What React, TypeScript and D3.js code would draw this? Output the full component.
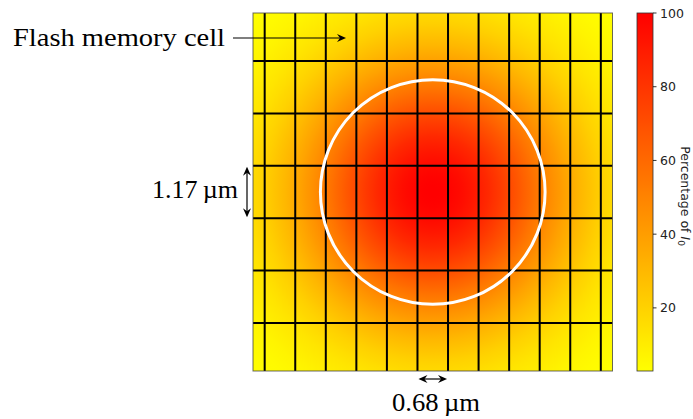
import React from "react";
import * as d3 from "d3";

// ---- data (µm / percent) ----
const extentUm = [-4, 4];
const peakPercent = 100;
const beamFwhmUm = 5.0;
const gridXUm = [-3.74, -3.06, -2.38, -1.7, -1.02, -0.34, 0.34, 1.02, 1.7, 2.38, 3.06, 3.74];
const gridYUm = [-2.925, -1.755, -0.585, 0.585, 1.755, 2.925];
const colorbarTicks = [20, 40, 60, 80, 100];
const cellPitchX = [-0.34, 0.34]; // 0.68 µm marker
const cellPitchY = [-0.585, 0.585]; // 1.17 µm marker
const labels = { cell: "Flash memory cell", pitchY: "1.17\u2009µm", pitchX: "0.68\u2009µm" };

const W = 693, H = 419;
const px0 = 253, px1 = 612.5, py0 = 13, py1 = 371;
const cbx0 = 637, cbx1 = 653;

const sigma = beamFwhmUm / (2 * Math.sqrt(2 * Math.log(2)));
const gauss = (r: number) => peakPercent * Math.exp(-(r * r) / (2 * sigma * sigma));
const rMax = Math.hypot(extentUm[1], extentUm[1]);
const vmin = gauss(rMax);

export default function App() {
  const x = d3.scaleLinear().domain(extentUm).range([px0, px1]);
  const y = d3.scaleLinear().domain(extentUm).range([py1, py0]);
  const color = d3.scaleLinear<string>().domain([vmin, peakPercent]).range(["#ffff00", "#ff0000"]).interpolate(d3.interpolateRgb);
  const cb = d3.scaleLinear().domain([vmin, peakPercent]).range([py1, py0]);
  const pxPerUm = x(1) - x(0);
  const cx = x(0), cy = y(0);
  const rPx = rMax * pxPerUm;
  const stops = d3.range(0, 1.0001, 0.02);

  const stealth = (tx: number, ty: number, ang: number, key: string) => {
    const L = 9, Wd = 4, n = 6;
    const c = Math.cos(ang), s = Math.sin(ang);
    const pt = (a: number, b: number) => `${tx + a * c - b * s},${ty + a * s + b * c}`;
    return <path key={key} d={`M${pt(0, 0)}L${pt(-L, -Wd)}L${pt(-n, 0)}L${pt(-L, Wd)}Z`} fill="#000" />;
  };

  const serif = "'Liberation Serif', 'DejaVu Serif', serif";
  const arrowY = 38;
  const vx = 247;
  const hy = 379;

  return (
    <svg width={W} height={H} style={{ position: "absolute", left: 0, top: 0, background: "#fff" }}>
      <defs>
        <radialGradient id="beam" gradientUnits="userSpaceOnUse" cx={cx} cy={cy} r={rPx}>
          {stops.map((t) => (
            <stop key={t} offset={t} stopColor={color(gauss(t * rMax))} />
          ))}
        </radialGradient>
        <linearGradient id="cbar" x1="0" y1="1" x2="0" y2="0">
          {stops.map((t) => (
            <stop key={t} offset={t} stopColor={color(vmin + t * (peakPercent - vmin))} />
          ))}
        </linearGradient>
        <clipPath id="plotclip">
          <rect x={px0} y={py0} width={px1 - px0} height={py1 - py0} />
        </clipPath>
      </defs>

      <rect x={px0} y={py0} width={px1 - px0} height={py1 - py0} fill="url(#beam)" />
      <g clipPath="url(#plotclip)">
        {gridXUm.map((g) => (
          <line key={"gx" + g} x1={x(g)} x2={x(g)} y1={py0} y2={py1} stroke="#000" strokeWidth={2} />
        ))}
        {gridYUm.map((g) => (
          <line key={"gy" + g} x1={px0} x2={px1} y1={y(g)} y2={y(g)} stroke="#000" strokeWidth={2} />
        ))}
        <circle cx={cx} cy={cy} r={(beamFwhmUm / 2) * pxPerUm} fill="none" stroke="#fff" strokeWidth={3} />
      </g>
      <rect x={px0} y={py0} width={px1 - px0} height={py1 - py0} fill="none" stroke="#444" strokeWidth={1} opacity={0.8} />

      {/* annotation */}
      <text x={13} y={46} fontFamily={serif} fontSize={25} textLength={212} lengthAdjust="spacingAndGlyphs" fill="#000">
        {labels.cell}
      </text>
      <line x1={233} x2={340} y1={arrowY} y2={arrowY} stroke="#000" strokeWidth={1.2} />
      {stealth(346, arrowY, 0, "a1")}

      {/* vertical pitch */}
      <line x1={vx} x2={vx} y1={y(cellPitchY[1]) + 3} y2={y(cellPitchY[0]) - 3} stroke="#000" strokeWidth={1.2} />
      {stealth(vx, y(cellPitchY[1]) + 1, -Math.PI / 2, "v1")}
      {stealth(vx, y(cellPitchY[0]) - 1, Math.PI / 2, "v2")}
      <text x={238} y={198} textAnchor="end" fontFamily={serif} fontSize={25} textLength={86} lengthAdjust="spacingAndGlyphs" fill="#000">
        {labels.pitchY}
      </text>

      {/* horizontal pitch */}
      <line x1={x(cellPitchX[0]) + 3} x2={x(cellPitchX[1]) - 3} y1={hy} y2={hy} stroke="#000" strokeWidth={1.2} />
      {stealth(x(cellPitchX[0]) + 1, hy, Math.PI, "h1")}
      {stealth(x(cellPitchX[1]) - 1, hy, 0, "h2")}
      <text x={436} y={411} textAnchor="middle" fontFamily={serif} fontSize={25} textLength={88} lengthAdjust="spacingAndGlyphs" fill="#000">
        {labels.pitchX}
      </text>

      {/* colorbar */}
      <rect x={cbx0} y={py0} width={cbx1 - cbx0} height={py1 - py0} fill="url(#cbar)" stroke="#333" strokeWidth={0.8} />
      {colorbarTicks.map((t) => (
        <g key={"t" + t}>
          <line x1={cbx1} x2={cbx1 + 3.5} y1={cb(t)} y2={cb(t)} stroke="#000" strokeWidth={0.8} />
          <text x={cbx1 + 7} y={cb(t)} dy="0.36em" fontFamily="'DejaVu Sans', sans-serif" fontSize={12.5} fill="#222">
            {t}
          </text>
        </g>
      ))}
      <text
        transform={`translate(681, 196) rotate(90)`}
        textAnchor="middle"
        fontFamily="'DejaVu Sans', sans-serif"
        fontSize={12.5}
        fill="#222"
      >
        Percentage of <tspan fontStyle="italic">I</tspan>
        <tspan fontSize={9} dy={3}>0</tspan>
      </text>
    </svg>
  );
}
